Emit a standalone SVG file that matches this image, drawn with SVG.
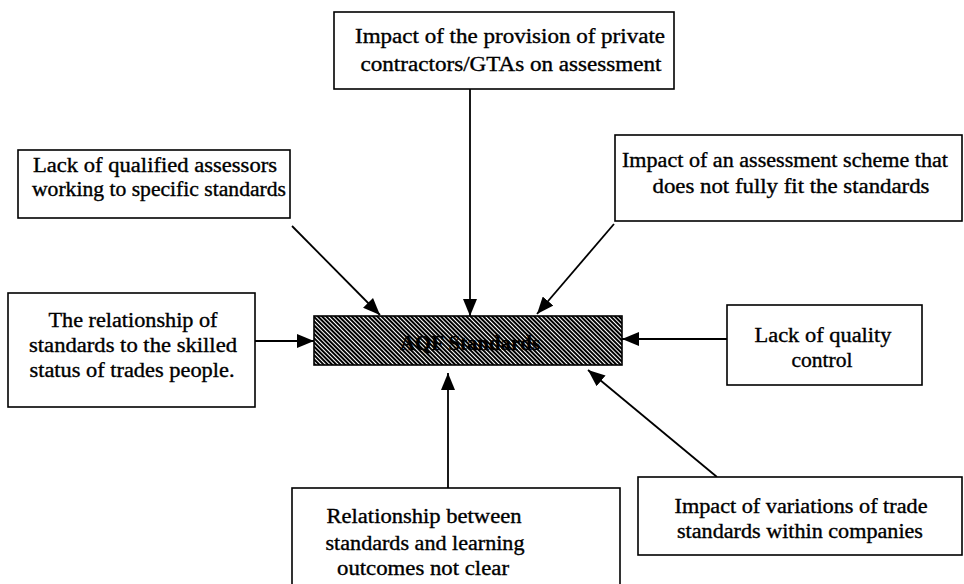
<svg xmlns="http://www.w3.org/2000/svg" width="964" height="584" viewBox="0 0 964 584">
<style>
.box{fill:#fff;stroke:#000;stroke-width:1.6}
.t{font-family:"Liberation Serif","DejaVu Serif",serif;font-size:20px;fill:#000;stroke:#000;stroke-width:0.35;text-anchor:middle}
.c{stroke:#000;stroke-width:1.8;fill:none;marker-end:url(#ah)}
</style>
<defs>
<marker id="ah" markerUnits="userSpaceOnUse" markerWidth="18" markerHeight="14" refX="17" refY="7" orient="auto">
<path d="M0,0 L17,7 L0,14 Z" fill="#000"/>
</marker>
<pattern id="hatch" patternUnits="userSpaceOnUse" width="3" height="3" patternTransform="rotate(-45)">
<rect width="3" height="3" fill="#fff"/>
<rect width="2" height="3" fill="#000"/>
</pattern>
</defs>
<rect width="964" height="584" fill="#fff"/>
<g id="connectors">
<line class="c" x1="470" y1="89" x2="470" y2="316"/>
<line class="c" x1="292" y1="226" x2="380" y2="315"/>
<line class="c" x1="614" y1="224" x2="537" y2="314"/>
<line class="c" x1="255" y1="341" x2="314" y2="341"/>
<line class="c" x1="727" y1="339" x2="622" y2="339"/>
<line class="c" x1="448" y1="488" x2="448" y2="373"/>
<line class="c" x1="717" y1="477" x2="588" y2="370"/>
</g>
<g id="center">
<rect x="314" y="316" width="308" height="49" fill="url(#hatch)" stroke="#000" stroke-width="1.6"/>
<text class="t" x="470" y="350" font-weight="bold" textLength="140" lengthAdjust="spacingAndGlyphs">AQF Standards</text>
</g>
<g id="n-top">
<rect class="box" x="334" y="12" width="340" height="77"/>
<text class="t" x="510" y="43" textLength="310" lengthAdjust="spacingAndGlyphs">Impact of the provision of private</text>
<text class="t" x="511" y="71" textLength="301" lengthAdjust="spacingAndGlyphs">contractors/GTAs on assessment</text>
</g>
<g id="n-topleft">
<rect class="box" x="18" y="150" width="272" height="68"/>
<text class="t" x="155" y="172" textLength="244" lengthAdjust="spacingAndGlyphs">Lack of qualified assessors</text>
<text class="t" x="159" y="196" textLength="254" lengthAdjust="spacingAndGlyphs">working to specific standards</text>
</g>
<g id="n-topright">
<rect class="box" x="615" y="135" width="347" height="86"/>
<text class="t" x="785" y="167" textLength="326" lengthAdjust="spacingAndGlyphs">Impact of an assessment scheme that</text>
<text class="t" x="791" y="193" textLength="277" lengthAdjust="spacingAndGlyphs">does not fully fit the standards</text>
</g>
<g id="n-left">
<rect class="box" x="8" y="293" width="247" height="114"/>
<text class="t" x="133" y="327" textLength="169" lengthAdjust="spacingAndGlyphs">The relationship of</text>
<text class="t" x="133" y="352" textLength="208" lengthAdjust="spacingAndGlyphs">standards to the skilled</text>
<text class="t" x="132" y="377" textLength="205" lengthAdjust="spacingAndGlyphs">status of trades people.</text>
</g>
<g id="n-right">
<rect class="box" x="727" y="305" width="195" height="80"/>
<text class="t" x="823" y="342" textLength="137" lengthAdjust="spacingAndGlyphs">Lack of quality</text>
<text class="t" x="822" y="367" textLength="61" lengthAdjust="spacingAndGlyphs">control</text>
</g>
<g id="n-bottom">
<rect class="box" x="292" y="488" width="328" height="110"/>
<text class="t" x="424" y="523" textLength="195" lengthAdjust="spacingAndGlyphs">Relationship between</text>
<text class="t" x="425" y="550" textLength="199" lengthAdjust="spacingAndGlyphs">standards and learning</text>
<text class="t" x="423" y="575" textLength="172" lengthAdjust="spacingAndGlyphs">outcomes not clear</text>
</g>
<g id="n-bottomright">
<rect class="box" x="638" y="477" width="324" height="78"/>
<text class="t" x="801" y="513" textLength="253" lengthAdjust="spacingAndGlyphs">Impact of variations of trade</text>
<text class="t" x="800" y="538" textLength="246" lengthAdjust="spacingAndGlyphs">standards within companies</text>
</g>
</svg>
